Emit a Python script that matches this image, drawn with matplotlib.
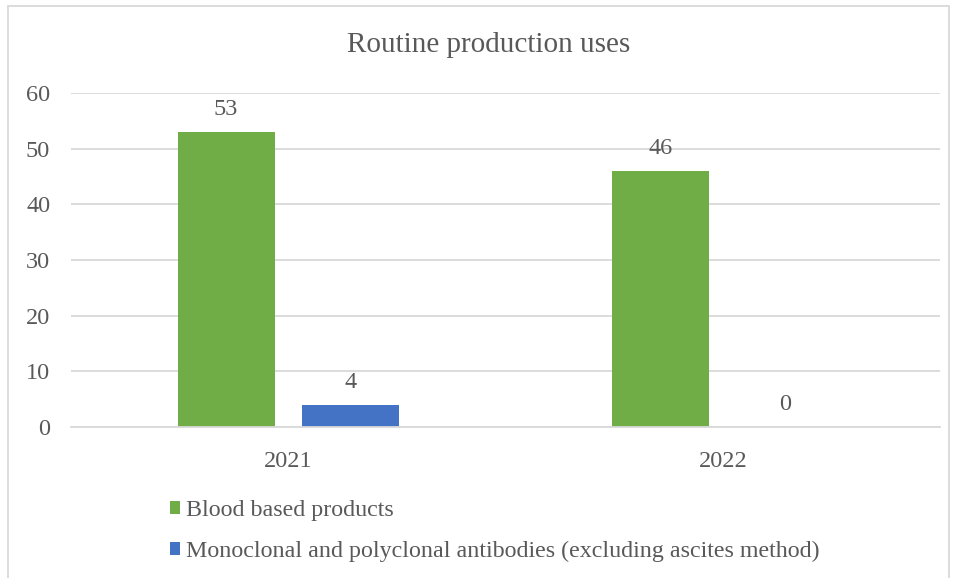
import numpy as np
import matplotlib.pyplot as plt
from matplotlib.patches import Rectangle

years = ['2021', '2022']
blood = [53, 46]
antibodies = [4, 0]
series_names = ['Blood based products',
                'Monoclonal and polyclonal antibodies (excluding ascites method)']

plt.rcParams['font.family'] = ['Liberation Serif', 'DejaVu Serif']
grey = '#595959'

fig = plt.figure(figsize=(9.56, 5.78), dpi=100)
ax = fig.add_axes([71/956, 1 - 427/578, (940-71)/956, (427-93)/578])

x = np.arange(len(years))
w = 0.223
b1 = ax.bar(x - 0.143, blood, w, color='#70AD47', label=series_names[0])
b2 = ax.bar(x + 0.143, antibodies, w, color='#4472C4', label=series_names[1])

for bars in (b1, b2):
    for r in bars:
        ax.annotate(f'{int(r.get_height())}', (r.get_x() + r.get_width()/2, r.get_height()),
                    xytext=(0, 16), textcoords='offset points', ha='center', va='center',
                    fontsize=17.5, color=grey)

ax.set_xlim(-0.5, 1.5)
ax.set_ylim(0, 60)
ax.set_yticks(range(0, 61, 10))
ax.set_xticks(x)
ax.set_xticklabels(years)
ax.yaxis.grid(True, color='#D9D9D9', linewidth=1.3)
ax.set_axisbelow(True)
for s in ['top', 'right', 'left']:
    ax.spines[s].set_visible(False)
ax.spines['bottom'].set_color('#D9D9D9')
ax.spines['bottom'].set_linewidth(1.3)
ax.tick_params(axis='both', length=0, labelsize=17.5, labelcolor=grey)
ax.tick_params(axis='y', pad=15)
ax.tick_params(axis='x', pad=17)

fig.text(489/956, 1 - 45/578, 'Routine production uses', ha='center', va='center',
         fontsize=21, color=grey)

fig.legend(handles=[b1, b2], loc='upper left', bbox_to_anchor=(148/956, 1 - 478/578),
           ncol=1, frameon=False, fontsize=17.3, labelcolor=grey,
           handlelength=0.45, handleheight=0.45, handletextpad=0.25, labelspacing=0.85)

fig.patches.append(Rectangle((8/956, -0.05), (949-8)/956, 1 - 6/578 + 0.05,
                             transform=fig.transFigure, fill=False,
                             edgecolor='#D9D9D9', linewidth=1.3))

fig.savefig('out.png', dpi=100)
